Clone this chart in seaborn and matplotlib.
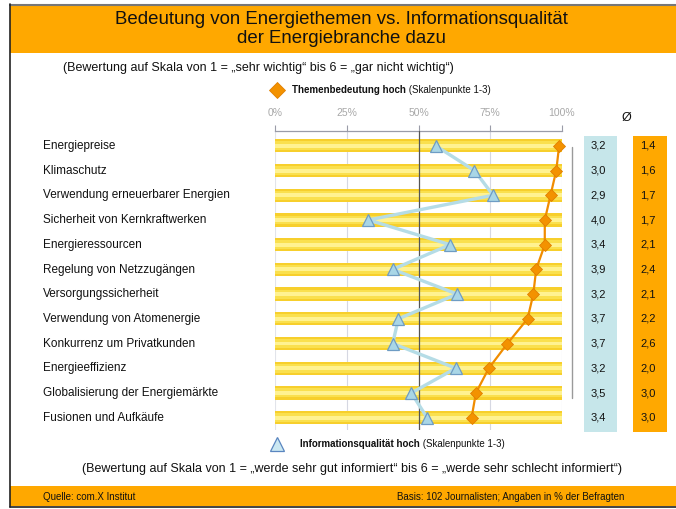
import matplotlib
matplotlib.use("Agg")
import matplotlib.pyplot as plt
import matplotlib.patches as mpatches
import matplotlib.lines as mlines
import numpy as np
import pandas as pd
import seaborn as sns

# data
topics = ["Energiepreise", "Klimaschutz", "Verwendung erneuerbarer Energien",
          "Sicherheit von Kernkraftwerken", "Energieressourcen",
          "Regelung von Netzzugängen", "Versorgungssicherheit",
          "Verwendung von Atomenergie", "Konkurrenz um Privatkunden",
          "Energieeffizienz", "Globalisierung der Energiemärkte",
          "Fusionen und Aufkäufe"]
importance = [99, 98, 96, 94, 94, 91, 90, 88, 81, 74.5, 70, 68.5]
info_quality = [56, 69.5, 76, 32.5, 61, 41, 63.5, 43, 41, 63, 47.5, 53]
avg_info = ["3,2", "3,0", "2,9", "4,0", "3,4", "3,9", "3,2", "3,7", "3,7", "3,2", "3,5", "3,4"]
avg_importance = ["1,4", "1,6", "1,7", "1,7", "2,1", "2,4", "2,1", "2,2", "2,6", "2,0", "3,0", "3,0"]
xticks = [0, 25, 50, 75, 100]

sns.set_theme(style="white")
plt.rcParams['font.family'] = ['Liberation Sans', 'DejaVu Sans']

W, H = 676, 509
fig = plt.figure(figsize=(W / 100, H / 100), dpi=100)
fig.patch.set_facecolor("white")


def fx(px):
    return px / W


def fy(py):
    return 1 - py / H


ORANGE = "#FFA800"

# frame and banners
fig.add_artist(mpatches.Rectangle((fx(10), fy(53)), fx(666), 48 / H, transform=fig.transFigure,
                                  facecolor=ORANGE, edgecolor="none"))
fig.add_artist(mpatches.Rectangle((fx(10), fy(506)), fx(666), 20 / H, transform=fig.transFigure,
                                  facecolor=ORANGE, edgecolor="none"))
fig.add_artist(mlines.Line2D([fx(10), fx(676)], [fy(4.5), fy(4.5)], transform=fig.transFigure,
                             color="#777777", lw=1.5))
fig.add_artist(mlines.Line2D([fx(10), fx(10)], [fy(4), fy(507)], transform=fig.transFigure,
                             color="#222222", lw=1.2))
fig.add_artist(mlines.Line2D([fx(10), fx(676)], [fy(507), fy(507)], transform=fig.transFigure,
                             color="#222222", lw=1.2))

fig.text(fx(341), fy(19.5), "Bedeutung von Energiethemen vs. Informationsqualität",
         ha="center", va="center", fontsize=13.4, color="#111111")
fig.text(fx(341), fy(38.5), "der Energiebranche dazu",
         ha="center", va="center", fontsize=13.4, color="#111111")
fig.text(fx(63), fy(68), "(Bewertung auf Skala von 1 = „sehr wichtig“ bis 6 = „gar nicht wichtig“)",
         ha="left", va="center", fontsize=9, color="#111111")

# main axes
ax = fig.add_axes([fx(275), fy(430), 287 / W, 299 / H])
df = pd.DataFrame({"topic": topics, "full": [100] * len(topics)})
for w, c in [(0.54, "#F7CF2C"), (0.36, "#FAE04E"), (0.16, "#FFF291")]:
    sns.barplot(data=df, x="full", y="topic", orient="h", width=w, color=c,
                saturation=1, ax=ax, zorder=2, linewidth=0, edgecolor="none")

pos = np.arange(len(topics))
for xv in [25, 75, 100]:
    ax.axvline(xv, color="#D6D8E2", lw=0.8, zorder=1)
ax.axvline(0, color="#E2E4EA", lw=0.8, zorder=1)
ax.axvline(50, color="#555555", lw=0.9, zorder=3)

sns.lineplot(x=info_quality, y=pos, sort=False, color="#B5DCE6", lw=2.4, ax=ax,
             zorder=4, estimator=None)
ax.plot(info_quality, pos, ls="none", marker="^", ms=9, mfc="#A9D6E6", mec="#6E9CC4",
        mew=0.9, zorder=5, clip_on=False)
sns.lineplot(x=importance, y=pos, sort=False, color="#F08C00", lw=1.6, ax=ax,
             zorder=6, estimator=None)
ax.plot(importance, pos, ls="none", marker="D", ms=6.5, mfc="#F39200", mec="#E07F00",
        mew=0.6, zorder=7, clip_on=False)

ax.set_xlim(0, 100)
ax.set_ylim(11.5, -0.6)
ax.set_xlabel("")
ax.set_ylabel("")
ax.set_yticks([])
ax.xaxis.tick_top()
ax.set_xticks(xticks)
ax.set_xticklabels([f"{t}%" for t in xticks], fontsize=7.5, color="#A8A8A8")
ax.tick_params(axis="x", top=True, direction="out", length=4, width=0.8,
               color="#9A9CA8", pad=5)
for side in ["bottom", "left", "right"]:
    ax.spines[side].set_visible(False)
ax.spines["top"].set_color("#9A9CA8")
ax.spines["top"].set_linewidth(0.9)
ax.patch.set_alpha(0)

# row labels
row_y = [146 + i * 24.7 for i in range(len(topics))]
for py, name in zip(row_y, topics):
    fig.text(fx(43), fy(py), name, ha="left", va="center", fontsize=8.5, color="#111111")

# right side line and average boxes
fig.add_artist(mlines.Line2D([fx(571.5), fx(571.5)], [fy(147), fy(398)], transform=fig.transFigure,
                             color="#9A9A9A", lw=1))
fig.add_artist(mpatches.Rectangle((fx(584), fy(432)), 33 / W, 296 / H, transform=fig.transFigure,
                                  facecolor="#C6E6EA", edgecolor="none"))
fig.add_artist(mpatches.Rectangle((fx(633), fy(432)), 34 / W, 296 / H, transform=fig.transFigure,
                                  facecolor=ORANGE, edgecolor="none"))
for py, a, b in zip(row_y, avg_info, avg_importance):
    fig.text(fx(598), fy(py), a, ha="center", va="center", fontsize=8, color="#111111")
    fig.text(fx(648), fy(py), b, ha="center", va="center", fontsize=8, color="#111111")
fig.text(fx(626), fy(118), "Ø", ha="center", va="center", fontsize=9, color="#111111")

# legend entries
fig.add_artist(mlines.Line2D([fx(277)], [fy(90)], transform=fig.transFigure, ls="none",
                             marker="D", ms=8, mfc="#F39200", mec="#E07F00", mew=0.6))
t1 = fig.text(fx(292), fy(90), "Themenbedeutung hoch", ha="left", va="center",
              fontsize=7, fontweight="bold", color="#111111")
ax.annotate(" (Skalenpunkte 1-3)", xy=(1, 0), xycoords=t1, ha="left", va="bottom",
            fontsize=7, color="#111111", annotation_clip=False)

fig.add_artist(mlines.Line2D([fx(277)], [fy(444)], transform=fig.transFigure, ls="none",
                             marker="^", ms=10, mfc="#CBE8F2", mec="#5A86C0", mew=0.9))
t2 = fig.text(fx(300), fy(444), "Informationsqualität hoch", ha="left", va="center",
              fontsize=7, fontweight="bold", color="#111111")
ax.annotate(" (Skalenpunkte 1-3)", xy=(1, 0), xycoords=t2, ha="left", va="bottom",
            fontsize=7, color="#111111", annotation_clip=False)

fig.text(fx(352), fy(469),
         "(Bewertung auf Skala von 1 = „werde sehr gut informiert“ bis 6 = „werde sehr schlecht informiert“)",
         ha="center", va="center", fontsize=9, color="#111111")

fig.text(fx(43), fy(497), "Quelle: com.X Institut", ha="left", va="center", fontsize=7, color="#111111")
fig.text(fx(624), fy(497), "Basis: 102 Journalisten; Angaben in % der Befragten", ha="right",
         va="center", fontsize=7, color="#111111")

fig.savefig("out.png", dpi=100)
